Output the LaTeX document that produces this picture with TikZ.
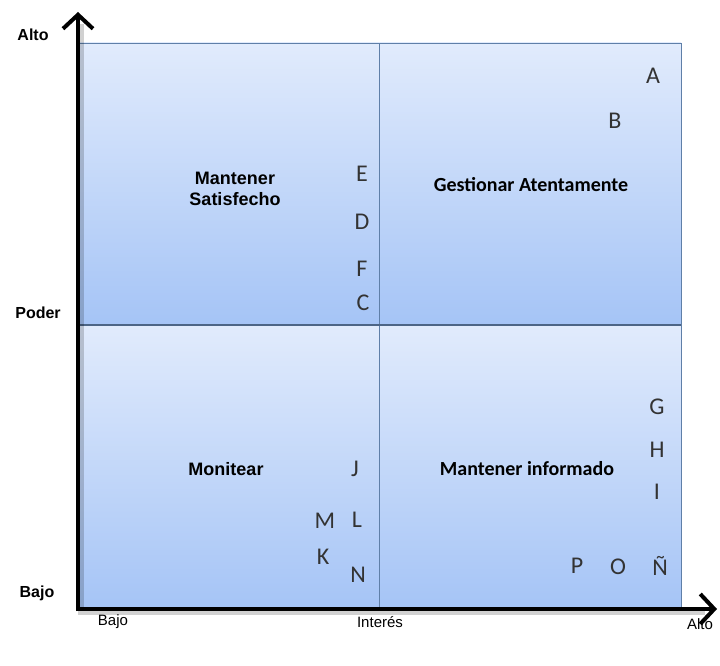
\documentclass[tikz,border=0pt]{standalone}
\usepackage{fontspec}
\setmainfont{Carlito}
\newfontfamily\arialfont{Liberation Sans}
\usetikzlibrary{arrows.meta}
\definecolor{quadtop}{HTML}{E1EBFC}
\definecolor{quadbot}{HTML}{A5C4F6}
\definecolor{quadedge}{HTML}{5F7FA8}
\begin{document}
\begin{tikzpicture}[x=1pt,y=-1pt,
  quad/.style={top color=quadtop,bottom color=quadbot,draw=quadedge,line width=0.8pt},
  item/.style={font=\fontsize{24}{24}\selectfont,text=black!80,inner sep=0pt},
  title/.style={font=\bfseries\fontsize{20}{22}\selectfont,text=black,align=center,inner sep=0pt},
  arialtitle/.style={font=\arialfont\bfseries\fontsize{18}{21}\selectfont,text=black,align=center,inner sep=0pt},
  axislabel/.style={font=\arialfont\fontsize{15}{15}\selectfont,inner sep=0pt},
  sidelabel/.style={font=\arialfont\bfseries\fontsize{16}{16}\selectfont,inner sep=0pt},
  axisline/.style={line width=4pt,-{Straight Barb[length=14pt,width=30pt,line width=4pt]}},
  axisshadow/.style={line width=6pt,draw=black,opacity=0.18},
]
\useasboundingbox (0,0) rectangle (720,666);

% quadrants
\draw[quad] (79,43) rectangle (379,325);
\draw[quad] (379,43) rectangle (681,325);
\draw[quad] (79,325) rectangle (379,609);
\draw[quad] (379,325) rectangle (681,609);
\draw[quadedge!80!black,line width=1.2pt] (79,325) -- (681,325);

% axes
\coordinate (origin) at (78,609);
\coordinate (ytip) at (78,12);
\coordinate (xtip) at (717,609);
\coordinate (shorigin) at (81,612);
\coordinate (shytip) at (81,24);
\coordinate (shxtip) at (705,612);
\draw[axisshadow] (shytip) -- (shorigin) -- (shxtip);
\draw[axisline] (76,609) -- (xtip);
\draw[axisline] (78,611) -- (ytip);

% axis labels
\node[sidelabel] (altoP) at (33,35) {Alto};
\node[sidelabel] (poder) at (38,313) {Poder};
\node[sidelabel] (bajoP) at (37,593) {Bajo};
\node[axislabel] (bajoI) at (113,622) {Bajo};
\node[axislabel] (interes) at (380,622) {Interés};
\node[axislabel] (altoI) at (700,624) {Alto};

% quadrant titles
\node[arialtitle] (satisfecho) at (235,189) {Mantener\\Satisfecho};
\node[title] (gestionar) at (531,185) {Gestionar Atentamente};
\node[arialtitle] (monitear) at (226,469) {Monitear};
\node[title] (informado) at (527,469) {Mantener informado};

% stakeholders
\node[item] (A) at (653,76) {A};
\node[item] (B) at (615,121) {B};
\node[item] (E) at (362,174) {E};
\node[item] (D) at (362,222) {D};
\node[item] (F) at (362,269) {F};
\node[item] (C) at (363,303) {C};
\node[item] (G) at (657,407) {G};
\node[item] (H) at (657,450) {H};
\node[item] (I) at (657,492) {I};
\node[item] (J) at (355,469) {J};
\node[item] (M) at (325,521) {M};
\node[item] (L) at (357,520) {L};
\node[item] (K) at (323,557) {K};
\node[item] (N) at (358,575) {N};
\node[item] (P) at (577,566) {P};
\node[item] (O) at (618,567) {O};
\node[item] (Ntilde) at (660,566) {Ñ};
\end{tikzpicture}
\end{document}
